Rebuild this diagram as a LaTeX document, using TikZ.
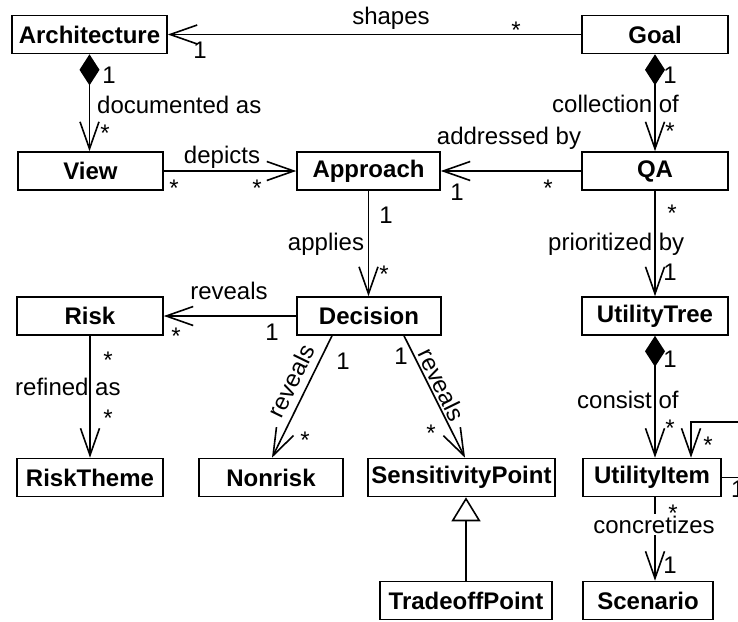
\documentclass[tikz,border=0pt]{standalone}
\usepackage{fontspec}
\setmainfont{Liberation Sans}
\usetikzlibrary{arrows.meta}
\begin{document}
\begin{tikzpicture}[x=1pt,y=-1pt,
  cls/.style={draw, line width=1.6pt, fill=white, inner sep=0pt,
    minimum height=38pt, font=\fontsize{24}{28}\selectfont\bfseries},
  lbl/.style={font=\fontsize{24}{28}\selectfont, inner sep=0pt, anchor=base},
  conn/.style={line width=1.6pt},
  openarr/.style={conn, -{Straight Barb[length=27pt,width=19pt]}},
  comp/.style={conn, {Diamond[length=31pt,width=20pt]}-{Straight Barb[length=27pt,width=19pt]}},
  gen/.style={conn, -{Triangle[open,length=24pt,width=29pt,fill=white]}}
]
\useasboundingbox (0,0) rectangle (738,621);

% classes
\node[cls, minimum width=155pt] (arch) at (89.5,34.5) {Architecture};
\node[cls, minimum width=146pt] (goal) at (655,34.5) {Goal};
\node[cls, minimum width=145pt] (view) at (90.5,171) {View};
\node[cls, minimum width=143pt] (appr) at (368.5,171) {Approach};
\node[cls, minimum width=146pt] (qa) at (655,171) {QA};
\node[cls, minimum width=146pt] (risk) at (90,316) {Risk};
\node[cls, minimum width=144pt] (dec) at (369,316) {Decision};
\node[cls, minimum width=146pt] (tree) at (655,316) {UtilityTree};
\node[cls, minimum width=146pt] (theme) at (90,477.5) {RiskTheme};
\node[cls, minimum width=144pt] (nonrisk) at (271,477.5) {Nonrisk};
\node[cls, minimum width=187pt] (sens) at (461.5,477.5) {SensitivityPoint};
\node[cls, minimum width=138pt] (item) at (652,477.5) {UtilityItem};
\node[cls, minimum width=172pt] (trade) at (466,600.5) {TradeoffPoint};
\node[cls, minimum width=130pt] (scen) at (648,600.5) {Scenario};

% connectors
\draw[openarr] (goal.west) -- (goal.west -| arch.east);
\draw[comp] (arch.south) -- (arch.south |- view.north);
\draw[openarr] (view.east) -- (appr.west);
\draw[openarr] (qa.west) -- (appr.east);
\draw[comp] (goal.south) -- (qa.north);
\draw[openarr] (appr.south) -- (appr.south |- dec.north);
\draw[openarr] (qa.south) -- (tree.north);
\draw[openarr] (dec.west) -- (risk.east);
\draw[openarr] (risk.south) -- (theme.north);
\draw[openarr] ([xshift=-37pt]dec.south) -- ([xshift=1pt]nonrisk.north);
\draw[openarr] ([xshift=35pt]dec.south) -- ([xshift=3.5pt]sens.north);
\draw[comp] (tree.south) -- (tree.south |- item.north);
\coordinate (lr) at (745,422);
\coordinate (lp) at (691,422);
\draw[openarr] (item.east) -| (lr) -- (lp) -- (lp |- item.north);
\draw[openarr] (tree.south |- item.south) -- (tree.south |- scen.north);
\draw[gen] (trade.north) -- (trade.north |- sens.south);

% labels
\node[lbl] (l1) at (391,24) {shapes};
\node[lbl] (l2) at (516,38) {*};
\node[lbl] (l3) at (200,58) {1};
\node[lbl] (l4) at (109,83) {1};
\node[lbl, anchor=base west] (l5) at (97,113) {documented as};
\node[lbl] (l6) at (105,141) {*};
\node[lbl] (l7) at (222,163) {depicts};
\node[lbl] (l8) at (174,196) {*};
\node[lbl] (l9) at (257,196) {*};
\node[lbl] (l10) at (509,144) {addressed by};
\node[lbl] (l11) at (457,200) {1};
\node[lbl] (l12) at (548,196) {*};
\node[lbl, anchor=base west] (l13) at (552,112) {collection of};
\node[lbl] (l14) at (670,83) {1};
\node[lbl] (l15) at (670,139) {*};
\node[lbl] (l16) at (326,250) {applies};
\node[lbl] (l17) at (386,223) {1};
\node[lbl] (l18) at (384,282) {*};
\node[lbl, anchor=base west] (l19) at (548,250) {prioritized by};
\node[lbl] (l20) at (672,221) {*};
\node[lbl] (l21) at (670,280) {1};
\node[lbl] (l22) at (229,299) {reveals};
\node[lbl] (l23) at (176,344) {*};
\node[lbl] (l24) at (272,340) {1};
\node[lbl] (l25) at (108,368) {*};
\node[lbl, anchor=base west] (l26) at (15,395) {refined as};
\node[lbl] (l27) at (108,426) {*};
\node[lbl] (l28) at (343,369) {1};
\node[lbl] (l29) at (305,448) {*};
\node[lbl, anchor=center, rotate=64] (l30) at (291,381) {reveals};
\node[lbl] (l31) at (401,364) {1};
\node[lbl] (l32) at (431,441) {*};
\node[lbl, anchor=center, rotate=-64] (l33) at (442,385) {reveals};
\node[lbl, anchor=base west] (l34) at (577,408) {consist of};
\node[lbl] (l35) at (670,367) {1};
\node[lbl] (l36) at (670,436) {*};
\node[lbl] (l37) at (708,453) {*};
\node[lbl, anchor=base west] (l38) at (731,497) {1};
\node[lbl, fill=white, inner ysep=2pt] (l39) at (654,533) {concretizes};
\node[lbl] (l40) at (673,521) {*};
\node[lbl] (l41) at (670,573) {1};
\end{tikzpicture}
\end{document}
